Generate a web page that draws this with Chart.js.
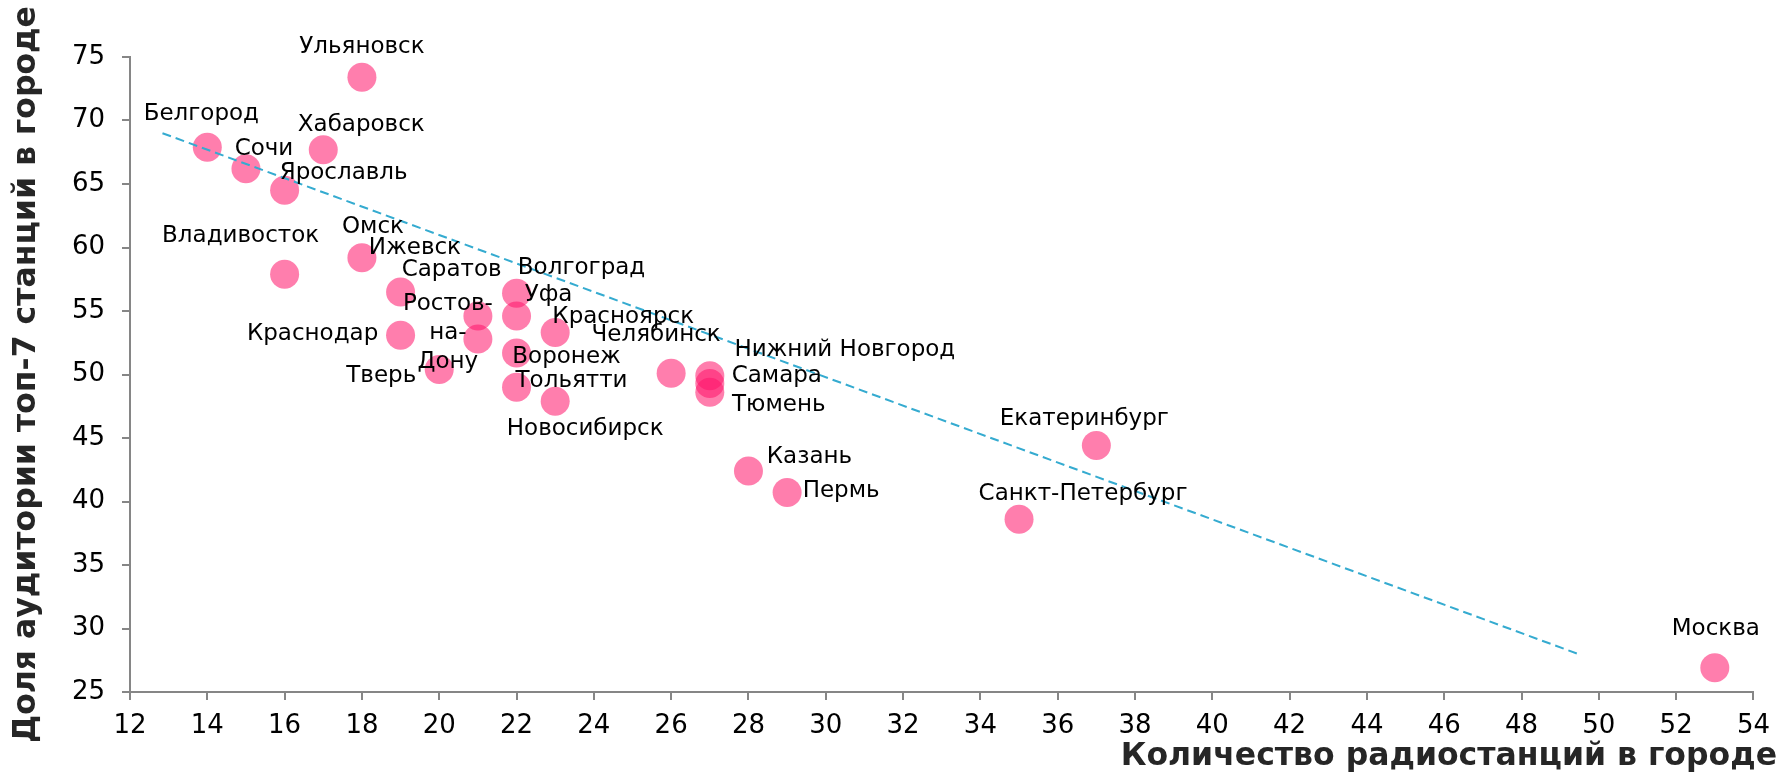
<!DOCTYPE html>
<html>
<head>
<meta charset="utf-8">
<script src="https://cdn.jsdelivr.net/npm/chart.js@4"></script>
<style>
  html, body { margin: 0; padding: 0; background: #fff; }
  #wrap { width: 1781px; height: 777px; }
</style>
</head>
<body>
<div id="wrap"><canvas id="radioChart" width="1781" height="777"></canvas></div>
<script>
// cities, number of stations (x) and top-7 audience share (y)
const cities = [
  'Ульяновск', 'Белгород', 'Хабаровск', 'Сочи', 'Ярославль', 'Владивосток',
  'Омск', 'Ижевск', 'Саратов', 'Волгоград', 'Уфа', 'Ростов-на-Дону',
  'Краснодар', 'Красноярск', 'Воронеж', 'Тверь', 'Тольятти', 'Новосибирск',
  'Челябинск', 'Нижний Новгород', 'Самара', 'Тюмень', 'Казань', 'Пермь',
  'Екатеринбург', 'Санкт-Петербург', 'Москва'
];
const stations = [18, 14, 17, 15, 16, 16, 18, 21, 19, 22, 22, 21, 19, 23, 22, 20, 22, 23, 26, 27, 27, 27, 28, 29, 37, 35, 53];
const shares = [73.4, 67.9, 67.7, 66.2, 64.5, 57.9, 59.2, 54.6, 56.5, 56.4, 54.6, 52.8, 53.1, 53.3, 51.7, 50.4, 49.0, 47.9, 50.1, 49.9, 49.3, 48.6, 42.4, 40.7, 44.4, 38.6, 26.9];

// trend line end points
const trendX = [12.84, 49.46];
const trendY = [69.0, 28.0];

// axis ranges / tick steps
const xMin = 12, xMax = 54, xStep = 2;
const yMin = 25, yMax = 75, yStep = 5;

const xTitle = 'Количество радиостанций в городе';
const yTitle = 'Доля аудитории топ-7 станций в городе';

// where each city label sits relative to its point (px)
const labelOffsets = [
  [0, -30], [-6, -33], [38, -25], [18, -20], [59, -17], [-44, -38],
  [11, -31], [-63, -68], [51, -22], [65, -25], [32, -21], [-30, -6],
  [-88, -1], [68, -16], [50, 4], [-58, 7], [55, -6], [30, 28],
  [-15, -38], [135, -26], [67, -7], [69, 13], [61, -14], [54, -2],
  [-12, -27], [64, -25], [1, -39]
];
const wrapped = ['Ростов-на-Дону'];

const FONT = '"DejaVu Sans", Verdana, sans-serif';
const AXIS_GRAY = '#868686';

// draws city names next to points and the x axis title
const cityLabels = {
  id: 'cityLabels',
  afterDatasetsDraw(chart) {
    const ctx = chart.ctx;
    const meta = chart.getDatasetMeta(1);
    ctx.save();
    ctx.font = '23px ' + FONT;
    ctx.fillStyle = '#000';
    ctx.textAlign = 'center';
    ctx.textBaseline = 'middle';
    meta.data.forEach((pt, i) => {
      const [dx, dy] = labelOffsets[i];
      const name = cities[i];
      if (wrapped.includes(name)) {
        const lines = name.split(/(?<=-)/);
        const lh = 29;
        lines.forEach((ln, k) => {
          ctx.fillText(ln, pt.x + dx, pt.y + dy + (k - (lines.length - 1) / 2) * lh);
        });
      } else {
        ctx.fillText(name, pt.x + dx, pt.y + dy);
      }
    });
    // x axis title, right aligned near the canvas edge
    ctx.font = 'bold 31.5px ' + FONT;
    ctx.fillStyle = '#262626';
    ctx.textAlign = 'right';
    ctx.textBaseline = 'alphabetic';
    ctx.fillText(xTitle, chart.width - 4, 765);
    ctx.restore();
  }
};

const ctx = document.getElementById('radioChart').getContext('2d');
const chart = new Chart(ctx, {
  type: 'scatter',
  data: {
    datasets: [
      {
        type: 'line',
        label: 'trend',
        data: trendX.map((x, i) => ({ x: x, y: trendY[i] })),
        borderColor: '#35ABD0',
        borderWidth: 2,
        borderDash: [9, 5],
        pointRadius: 0,
        fill: false,
        order: 0
      },
      {
        label: 'cities',
        data: stations.map((x, i) => ({ x: x, y: shares[i] })),
        backgroundColor: 'rgba(255, 20, 105, 0.55)',
        borderWidth: 0,
        pointRadius: 14.5,
        pointHoverRadius: 14.5,
        order: 1
      }
    ]
  },
  options: {
    responsive: false,
    animation: false,
    layout: { padding: { left: 0, top: 57, right: 27.5, bottom: 0 } },
    plugins: {
      legend: { display: false },
      tooltip: { enabled: false }
    },
    scales: {
      x: {
        type: 'linear',
        min: xMin,
        max: xMax,
        afterFit: s => { s.height = 85; },
        ticks: { stepSize: xStep, color: '#000', font: { family: FONT, size: 26 }, padding: 11, maxRotation: 0 },
        grid: { drawOnChartArea: false, drawTicks: true, tickLength: 8, color: AXIS_GRAY, lineWidth: 2 },
        border: { color: AXIS_GRAY, width: 2 }
      },
      y: {
        type: 'linear',
        min: yMin,
        max: yMax,
        afterFit: s => { s.width = 130; },
        ticks: { stepSize: yStep, color: '#000', font: { family: FONT, size: 26 }, padding: 17 },
        grid: { drawOnChartArea: false, drawTicks: true, tickLength: 8, color: AXIS_GRAY, lineWidth: 2 },
        border: { color: AXIS_GRAY, width: 2 },
        title: {
          display: true,
          text: yTitle,
          color: '#262626',
          font: { family: FONT, size: 31.5, weight: 'bold' },
          padding: { top: 8, bottom: 0 }
        }
      }
    }
  },
  plugins: [cityLabels]
});
</script>
</body>
</html>
